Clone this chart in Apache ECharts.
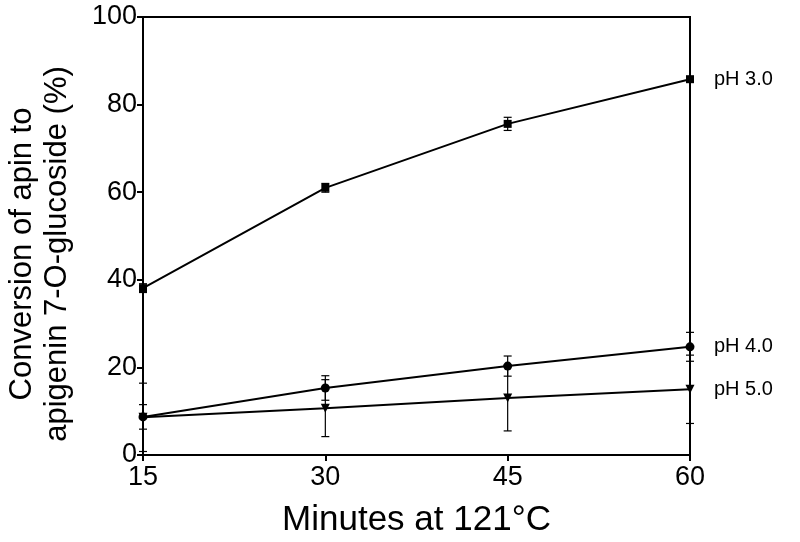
<!DOCTYPE html>
<html>
<head>
<meta charset="utf-8">
<script src="https://cdn.jsdelivr.net/npm/echarts@6/dist/echarts.min.js"></script>
<style>
  html, body { margin: 0; padding: 0; background: #fff; }
  #chart { width: 800px; height: 542px; }
</style>
</head>
<body>
<div id="chart"></div>
<script>
const minutes = [15, 30, 45, 60]
const ph3 = [38.1, 61.0, 75.6, 85.8]
const ph3Err = [1.0, 1.0, 1.5, 0.6]
const ph4 = [8.7, 15.3, 20.3, 24.7]
const ph4Err = [2.8, 2.8, 2.3, 3.3]
const ph5 = [8.6, 10.7, 13.0, 15.0]
const ph5Err = [7.8, 6.5, 7.5, 7.8]
const yTicks = [0, 20, 40, 60, 80, 100]

const FONT = 'Liberation Sans, Arial, sans-serif'

function errorData(values, errs) {
  return minutes.map((m, i) => [m, values[i] - errs[i], values[i] + errs[i]])
}

function renderErrorBar(params, api) {
  const x = api.value(0)
  const low = api.coord([x, api.value(1)])
  const high = api.coord([x, api.value(2)])
  const half = 4
  const style = { stroke: '#000', lineWidth: 1.2 }
  return {
    type: 'group',
    children: [
      { type: 'line', shape: { x1: low[0], y1: low[1], x2: high[0], y2: high[1] }, style },
      { type: 'line', shape: { x1: low[0] - half, y1: low[1], x2: low[0] + half, y2: low[1] }, style },
      { type: 'line', shape: { x1: high[0] - half, y1: high[1], x2: high[0] + half, y2: high[1] }, style }
    ]
  }
}

function lineSeries(name, values, symbol, size, rotate) {
  return {
    name,
    type: 'line',
    data: minutes.map((m, i) => [m, values[i]]),
    symbol,
    symbolSize: size,
    symbolRotate: rotate || 0,
    showAllSymbol: true,
    lineStyle: { color: '#000', width: 2 },
    itemStyle: { color: '#000' },
    animation: false,
    z: 3,
    endLabel: {
      show: true,
      formatter: name,
      color: '#000',
      fontFamily: FONT,
      fontSize: 20,
      distance: 24
    }
  }
}

function errSeries(values, errs) {
  return {
    type: 'custom',
    data: errorData(values, errs),
    renderItem: renderErrorBar,
    encode: { x: 0, y: [1, 2] },
    animation: false,
    z: 2
  }
}

const chart = echarts.init(document.getElementById('chart'))
chart.setOption({
  backgroundColor: '#fff',
  grid: {
    left: 143, right: 110, top: 17, bottom: 87,
    outerBoundsMode: 'none',
    show: true, borderColor: '#000', borderWidth: 2
  },
  xAxis: {
    type: 'value',
    min: 15,
    max: 60,
    interval: 15,
    name: 'Minutes at 121°C',
    nameLocation: 'middle',
    nameGap: 48,
    nameTextStyle: { color: '#000', fontFamily: FONT, fontSize: 35 },
    axisLine: { lineStyle: { color: '#000', width: 2 } },
    axisTick: { show: true, length: 6, lineStyle: { color: '#000', width: 2 } },
    axisLabel: { color: '#000', fontFamily: FONT, fontSize: 27, margin: 9 },
    splitLine: { show: false }
  },
  yAxis: {
    type: 'value',
    min: yTicks[0],
    max: yTicks[yTicks.length - 1],
    interval: 20,
    name: 'Conversion of apin to\napigenin 7-O-glucoside (%)',
    nameLocation: 'middle',
    nameGap: 68,
    nameRotate: 90,
    nameTextStyle: { color: '#000', fontFamily: FONT, fontSize: 31, lineHeight: 35, padding: [0, 36, 0, 0] },
    axisLine: { lineStyle: { color: '#000', width: 2 } },
    axisTick: { show: true, length: 6, lineStyle: { color: '#000', width: 2 } },
    axisLabel: { color: '#000', fontFamily: FONT, fontSize: 27, margin: 6 },
    splitLine: { show: false }
  },
  series: [
    errSeries(ph3, ph3Err),
    errSeries(ph4, ph4Err),
    errSeries(ph5, ph5Err),
    lineSeries('pH 3.0', ph3, 'rect', 8),
    lineSeries('pH 4.0', ph4, 'circle', 9),
    lineSeries('pH 5.0', ph5, 'triangle', 9, 180)
  ]
})
</script>
</body>
</html>
